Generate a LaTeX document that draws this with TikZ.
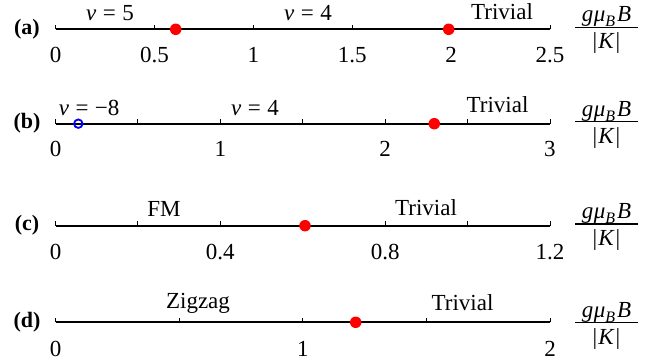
\documentclass[tikz,border=0pt]{standalone}
\usepackage{fontspec}
\setmainfont{Liberation Serif}
\newcommand\myfrac[2]{%
  \node[lbl] (#1n) at (606.5,#2-5.5) {\textit{g}\hspace{0.5pt}\textit{μ}\raisebox{-0.22em}{\fontsize{16}{16}\selectfont\textit{B}}\hspace{2pt}\textit{B}};
  \draw[line width=1.3pt] (575,#2) -- (637.5,#2);
  \node[lbl] (#1d) at (606.5,#2+21.5) {|\hspace{1pt}\textit{K}\hspace{1pt}|};
}
\newcommand\nueq[1]{\textit{ν}\hspace{0.28em}=\hspace{0.28em}#1}
\begin{document}
\begin{tikzpicture}[x=1pt,y=-1pt,
  lbl/.style={font=\fontsize{23}{27}\selectfont, inner sep=0pt, anchor=base},
  panel/.style={font=\fontsize{22}{27}\selectfont\bfseries, inner sep=0pt, anchor=base},
  axis/.style={line width=1.8pt},
  tickmark/.style={line width=0.9pt},
  dotr/.style={circle, fill=red, inner sep=0pt, minimum size=11.5pt},
  dotb/.style={circle, draw=blue, line width=1.8pt, inner sep=0pt, minimum size=8.5pt},
]
\useasboundingbox (0,0) rectangle (670,364);

% ---------- (a) ----------
\coordinate (a0) at (55.5,29.3);
\coordinate (a1) at (550,29.3);
\draw[axis] (a0) -- (a1);
\foreach \v/\t [count=\i] in {0/0,0.5/0.5,1/1,1.5/1.5,2/2,2.5/2.5}{
  \draw[tickmark] (55.5+\v*197.8,29.3) -- ++(0,-4.5);
  \node[lbl] (at\i) at (55.5+\v*197.8,62) {\t};
}
\node[dotr] (ad1) at (175.7,29.3) {};
\node[dotr] (ad2) at (448.7,29.3) {};
\node[lbl] (al1) at (110,20.5) {\nueq{5}};
\node[lbl] (al2) at (308,20.5) {\nueq{4}};
\node[lbl] (al3) at (502,19.3) {Trivial};
\node[panel] (ap) at (27,34.5) {(a)};
\myfrac{af}{27.3}

% ---------- (b) ----------
\coordinate (b0) at (55.5,123.7);
\coordinate (b1) at (550,123.7);
\draw[axis] (b0) -- (b1);
\foreach \v [count=\i] in {0,0.5,1,1.5,2,2.5,3}{
  \draw[tickmark] (55.5+\v*164.83,123.7) -- ++(0,-4.5);
}
\foreach \v [count=\i] in {0,1,2,3}{
  \node[lbl] (bt\i) at (55.5+\v*164.83,156.5) {\v};
}
\node[dotb] (bd1) at (78.3,123.7) {};
\node[dotr] (bd2) at (434.3,123.7) {};
\node[lbl] (bl1) at (89.2,115) {\nueq{−8}};
\node[lbl] (bl2) at (255,115) {\nueq{4}};
\node[lbl] (bl3) at (497.5,112.7) {Trivial};
\node[panel] (bp) at (27,128.5) {(b)};
\myfrac{bf}{121.7}

% ---------- (c) ----------
\coordinate (c0) at (55.5,225.7);
\coordinate (c1) at (550,225.7);
\draw[axis] (c0) -- (c1);
\foreach \v [count=\i] in {0,0.2,0.4,0.6,0.8,1.0,1.2}{
  \draw[tickmark] (55.5+\v*412.08,225.7) -- ++(0,-4.5);
}
\foreach \v/\t [count=\i] in {0/0,0.4/0.4,0.8/0.8,1.2/1.2}{
  \node[lbl] (ct\i) at (55.5+\v*412.08,259.5) {\t};
}
\node[dotr] (cd1) at (305,225.7) {};
\node[lbl] (cl1) at (164,216) {FM};
\node[lbl] (cl2) at (426,215) {Trivial};
\node[panel] (cp) at (27,230.5) {(c)};
\myfrac{cf}{224}

% ---------- (d) ----------
\coordinate (d0) at (55.5,322.3);
\coordinate (d1) at (550,322.3);
\draw[axis] (d0) -- (d1);
\foreach \v [count=\i] in {0,0.5,1,1.5,2}{
  \draw[tickmark] (55.5+\v*247.25,322.3) -- ++(0,-4.5);
}
\foreach \v [count=\i] in {0,1,2}{
  \node[lbl] (dt\i) at (55.5+\v*247.25,356.5) {\v};
}
\node[dotr] (dd1) at (355.7,322.3) {};
\node[lbl] (dl1) at (198,308.3) {Zigzag};
\node[lbl] (dl2) at (462.5,310.7) {Trivial};
\node[panel] (dp) at (27,327.5) {(d)};
\myfrac{df}{322.5}
\end{tikzpicture}
\end{document}
